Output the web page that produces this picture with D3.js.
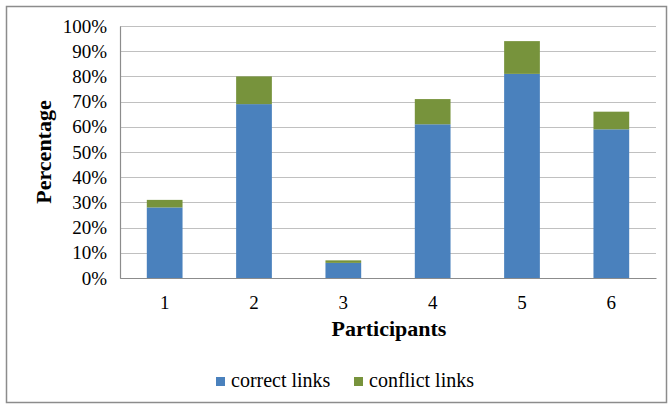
<!DOCTYPE html>
<html>
<head>
<meta charset="utf-8">
<script src="https://cdn.jsdelivr.net/npm/d3@7"></script>
<style>
  body { margin: 0; background: #fff; }
  svg text { font-family: "Liberation Serif", "Times New Roman", Times, "DejaVu Serif", serif; fill: #000; }
</style>
</head>
<body>
<div id="chart"></div>
<script>
// data
var participants = ["1", "2", "3", "4", "5", "6"];
var correctLinks = [28, 69, 6, 61, 81, 59];
var conflictLinks = [3, 11, 1, 10, 13, 7];
var yTicks = [0, 10, 20, 30, 40, 50, 60, 70, 80, 90, 100];
var seriesNames = ["correct links", "conflict links"];
var seriesColors = ["#4a81bd", "#77933c"];

var W = 672, H = 406;
var margin = {top: 26, right: 16, bottom: 128, left: 120},
    width = W - margin.left - margin.right,
    height = H - margin.top - margin.bottom;

var svg = d3.select("#chart")
  .append("svg")
    .attr("width", W)
    .attr("height", H)
    .attr("font-family", "Liberation Serif, serif");

// outer frame
svg.append("rect")
  .attr("x", 6.5).attr("y", 6.5)
  .attr("width", W - 12).attr("height", H - 10)
  .attr("fill", "none")
  .attr("stroke", "#8c8c8c")
  .attr("stroke-width", 1.5);

var g = svg.append("g")
  .attr("transform", "translate(" + margin.left + "," + margin.top + ")");

var x = d3.scaleBand()
  .domain(participants)
  .range([0, width])
  .paddingInner(0.6)
  .paddingOuter(0.3);

var y = d3.scaleLinear()
  .domain([0, 100])
  .range([height, 0]);

// gridlines
g.selectAll(".grid")
  .data(yTicks)
  .enter()
  .append("line")
    .attr("x1", 0)
    .attr("x2", width)
    .attr("y1", function(d) { return Math.round(y(d)) + 0.5; })
    .attr("y2", function(d) { return Math.round(y(d)) + 0.5; })
    .attr("stroke", "#c0c0c0")
    .attr("stroke-width", 1.2);

// stacked data
var rows = participants.map(function(p, i) {
  return {p: p, correct: correctLinks[i], conflict: conflictLinks[i]};
});
var stacked = d3.stack().keys(["correct", "conflict"])(rows);

g.selectAll(".series")
  .data(stacked)
  .enter()
  .append("g")
    .attr("fill", function(d, i) { return seriesColors[i]; })
  .selectAll("rect")
  .data(function(d) { return d; })
  .enter()
  .append("rect")
    .attr("x", function(d) { return x(d.data.p); })
    .attr("y", function(d) { return y(d[1]); })
    .attr("width", x.bandwidth())
    .attr("height", function(d) { return y(d[0]) - y(d[1]); });

// y axis
var yAxis = g.append("g")
  .call(d3.axisLeft(y).tickValues(yTicks).tickSize(0).tickPadding(13)
    .tickFormat(function(d) { return d + "%"; }))
  .attr("font-family", null);
yAxis.select(".domain").attr("stroke", "#8c8c8c").attr("stroke-width", 1.2);
yAxis.selectAll("text")
  .style("font-size", "19px");

// x axis
var xAxis = g.append("g")
  .attr("transform", "translate(0," + height + ")")
  .call(d3.axisBottom(x).tickSize(0).tickPadding(18))
  .attr("font-family", null);
xAxis.select(".domain").attr("stroke", "#8c8c8c").attr("stroke-width", 1.2);
xAxis.selectAll("text")
  .style("font-size", "19px");

// axis titles
g.append("text")
  .attr("x", width / 2 + 1)
  .attr("y", height + 58)
  .style("text-anchor", "middle")
  .style("font-size", "22px")
  .style("font-weight", "bold")
  .text("Participants");

g.append("text")
  .attr("transform", "rotate(-90)")
  .attr("x", -(y(50)))
  .attr("y", -69)
  .style("text-anchor", "middle")
  .style("font-size", "22px")
  .style("font-weight", "bold")
  .text("Percentage");

// legend
var legendX = [216, 354];
var legend = svg.selectAll(".legend")
  .data(seriesNames)
  .enter()
  .append("g")
    .attr("transform", function(d, i) { return "translate(" + legendX[i] + ",377)"; });
legend.append("rect")
  .attr("width", 9).attr("height", 9)
  .attr("fill", function(d, i) { return seriesColors[i]; });
legend.append("text")
  .attr("x", 15)
  .attr("y", 10)
  .style("font-size", "20px")
  .text(function(d) { return d; });
</script>
</body>
</html>
